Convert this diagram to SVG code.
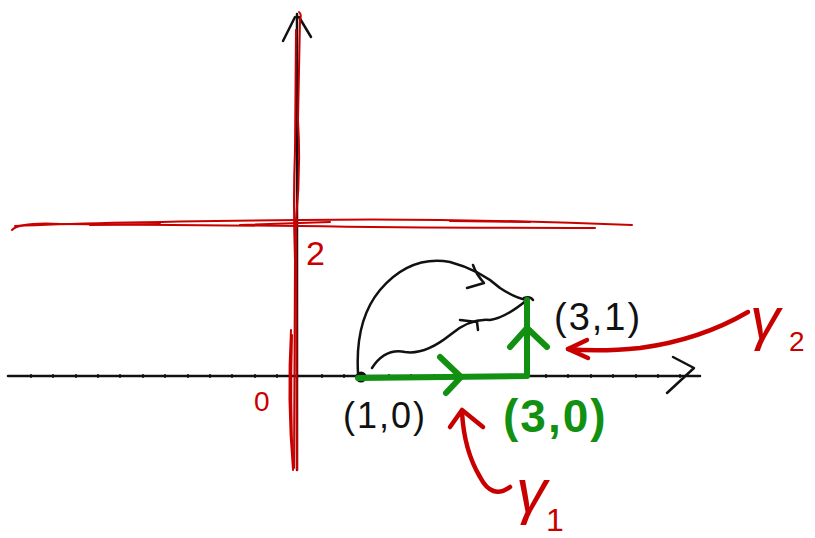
<svg xmlns="http://www.w3.org/2000/svg" width="815" height="538" viewBox="0 0 815 538">
<style>
.blk{fill:none;stroke:#111;stroke-width:2.5;stroke-linecap:round;stroke-linejoin:round}
.red{fill:none;stroke:#c80000;stroke-width:2;stroke-linecap:round;stroke-linejoin:round}
.redT{fill:none;stroke:#c80000;stroke-width:4.5;stroke-linecap:round;stroke-linejoin:round}
.grn{fill:none;stroke:#119011;stroke-width:6;stroke-linecap:round;stroke-linejoin:round}
.tick{stroke:#111;stroke-width:1.5}
text{font-family:"Liberation Sans","DejaVu Sans",sans-serif}
.tr{fill:#c80000}
.tb{fill:#111}
.tg{fill:#119011;font-weight:bold}
</style>
<g id="axes">
  <line class="blk" x1="8" y1="376" x2="700" y2="376"/>
  <g class="tick">
    <line x1="31" y1="374" x2="31" y2="378"/><line x1="53" y1="374" x2="53" y2="378"/><line x1="76" y1="374" x2="76" y2="378"/><line x1="98" y1="374" x2="98" y2="378"/><line x1="120" y1="374" x2="120" y2="378"/><line x1="143" y1="374" x2="143" y2="378"/><line x1="165" y1="374" x2="165" y2="378"/><line x1="188" y1="374" x2="188" y2="378"/><line x1="210" y1="374" x2="210" y2="378"/><line x1="232" y1="374" x2="232" y2="378"/><line x1="255" y1="374" x2="255" y2="378"/><line x1="277" y1="374" x2="277" y2="378"/><line x1="322" y1="374" x2="322" y2="378"/><line x1="344" y1="374" x2="344" y2="378"/><line x1="389" y1="374" x2="389" y2="378"/><line x1="411" y1="374" x2="411" y2="378"/><line x1="434" y1="374" x2="434" y2="378"/><line x1="546" y1="374" x2="546" y2="378"/><line x1="568" y1="374" x2="568" y2="378"/><line x1="591" y1="374" x2="591" y2="378"/><line x1="613" y1="374" x2="613" y2="378"/><line x1="636" y1="374" x2="636" y2="378"/><line x1="658" y1="374" x2="658" y2="378"/><line x1="680" y1="374" x2="680" y2="378"/>
  </g>
  <path class="blk" d="M673,357 L694,368 L667,393"/>
  <line class="blk" x1="297" y1="14" x2="297" y2="470"/>
  <path class="blk" d="M283,41 L295,17 M299,17 L311,37"/>
</g>
<g id="red-lines">
  <path class="red" d="M299,12 Q302,14 300,20 L298,120 Q301,170 296,220 L297,470"/>
  <path class="red" d="M296,30 L295,150 Q293,200 295,260 L294,468"/>
  <path class="red" d="M291,330 Q287,400 293,470 Q290,400 292,335"/>
  <path class="red" d="M15,226 Q100,222 300,220 Q460,218 632,225"/>
  <path class="red" d="M12,230 Q20,222 60,224 L300,226 Q420,228 595,228"/>
  <path class="red" d="M90,225 L160,224 M240,225 L330,222 M450,221 L530,222"/>
</g>
<g id="curves">
  <path class="blk" d="M358,373 Q355,320 380,290 Q410,255 450,262 Q480,270 500,288 Q515,298 527,300"/>
  <path class="blk" d="M372,368 Q385,348 405,352 Q425,355 450,335 Q470,318 490,320 Q505,318 527,300"/>
  <path class="blk" d="M473,265 Q476,274 484,283 L467,288"/>
  <path class="blk" d="M460,320 L477,322 L478,330"/>
  <path class="blk" d="M524,298 Q530,296 533,300"/>
  <circle cx="361" cy="377" r="5.5" fill="#111"/>
</g>
<g id="green-path">
  <path class="grn" d="M358,378 L527,376 L527,300"/>
  <path class="grn" d="M440,357 L461,377 L446,393"/>
  <path class="grn" d="M510,347 L527,328 L547,347"/>
</g>
<g id="gamma2-arrow">
  <path class="redT" d="M748,312 Q700,340 640,348 Q600,352 568,349"/>
  <path class="redT" d="M587,340 L568,349 L588,358"/>
</g>
<g id="gamma1-arrow">
  <path class="redT" d="M462,412 Q464,450 480,477 Q492,500 510,487"/>
  <path class="redT" d="M450,427 L462,410 L483,427"/>
</g>
<g id="labels">
  <text class="tr" x="306" y="265" font-size="34">2</text>
  <text class="tr" x="254" y="411" font-size="28">0</text>
  <text class="tb" x="343" y="428" font-size="36" letter-spacing="2">(1,0)</text>
  <text class="tg" x="503" y="432" font-size="46" letter-spacing="2">(3,0)</text>
  <text class="tb" x="554" y="330" font-size="38" letter-spacing="2">(3,1)</text>
  <text class="tr" x="750" y="339" font-size="60" font-style="italic">γ</text>
  <text class="tr" x="789" y="351" font-size="28">2</text>
  <text class="tr" x="516" y="512" font-size="62" font-style="italic">γ</text>
  <text class="tr" x="546" y="531" font-size="32">1</text>
</g>
</svg>
